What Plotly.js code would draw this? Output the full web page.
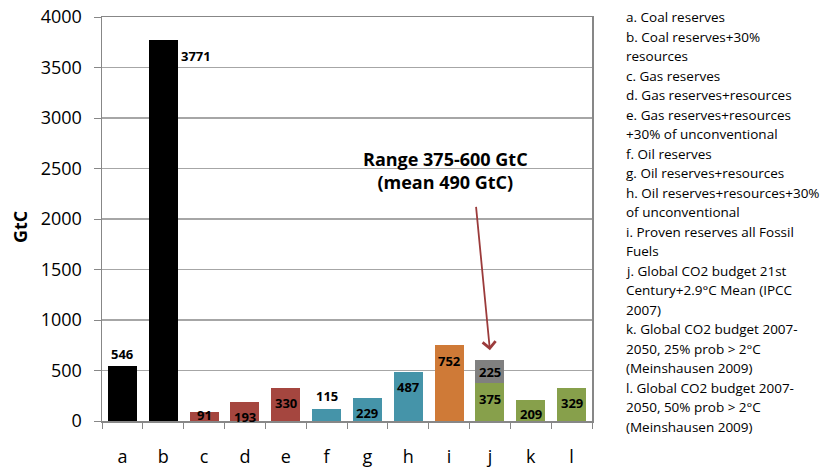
<!DOCTYPE html>
<html>
<head>
<meta charset="utf-8">
<script src="https://cdn.plot.ly/plotly-3.0.1.min.js"></script>
<style>
  html, body { margin: 0; padding: 0; background: #ffffff; }
  #chart { width: 827px; height: 467px; }
</style>
</head>
<body>
<div id="chart"></div>
<script>
// Carbon stocks and budgets, GtC
const categories = ['a', 'b', 'c', 'd', 'e', 'f', 'g', 'h', 'i', 'j', 'k', 'l'];
const values = [546, 3771, 91, 193, 330, 115, 229, 487, 752, 375, 209, 329];
const rangeTopCategory = ['j'];
const rangeTopValue = [225];   // 375 + 225 = 600 GtC upper end of range

const descriptions = [
  'a. Coal reserves',
  'b. Coal reserves+30%<br>resources',
  'c. Gas reserves',
  'd. Gas reserves+resources',
  'e. Gas reserves+resources<br>+30% of unconventional',
  'f. Oil reserves',
  'g. Oil reserves+resources',
  'h. Oil reserves+resources+30%<br>of unconventional',
  'i. Proven reserves all Fossil<br>Fuels',
  'j. Global CO2 budget 21st<br>Century+2.9°C Mean (IPCC<br>2007)',
  'k. Global CO2 budget 2007-<br>2050, 25% prob > 2°C<br>(Meinshausen 2009)',
  'l. Global CO2 budget 2007-<br>2050, 50% prob > 2°C<br>(Meinshausen 2009)'
];

const rangeNote = 'Range 375-600 GtC<br>(mean 490 GtC)';

// bar colours by fuel group
const groupColor = {
  coal: '#000000', gas: '#a5463f', oil: '#4594a9',
  all: '#cf7a37', budget: '#87a04b', range: '#808080'
};
const barGroups = ['coal', 'coal', 'gas', 'gas', 'gas', 'oil', 'oil', 'oil', 'all', 'budget', 'budget', 'budget'];

const FONT = 'Open Sans, Liberation Sans, Arial, sans-serif';

const traces = [
  {
    type: 'bar', x: categories, y: values,
    marker: { color: barGroups.map(g => groupColor[g]), line: { width: 0 } },
    hoverinfo: 'x+y'
  },
  {
    type: 'bar', x: rangeTopCategory, y: rangeTopValue,
    marker: { color: groupColor.range, line: { width: 0 } },
    hoverinfo: 'x+y'
  }
];

// value-label placement: pixel offset of label centre from bar top (negative = above)
const labelDrop = { a: -12, b: 16, c: 3, d: 15, e: 15, f: -13, g: 15, h: 15, i: 16, j: 16, k: 14, l: 15 };

const annotations = [];
const labelFont = { family: FONT, size: 13, color: '#000000', weight: 'bold' };

categories.forEach((c, i) => {
  const a = {
    x: c, y: values[i], xref: 'x', yref: 'y',
    text: String(values[i]), showarrow: false, font: labelFont,
    yanchor: 'middle', yshift: -labelDrop[c]
  };
  if (c === 'b') { a.xanchor = 'left'; a.xshift = 16; }
  annotations.push(a);
});

// stacked upper segment label
annotations.push({
  x: rangeTopCategory[0], y: values[categories.indexOf('j')] + rangeTopValue[0],
  xref: 'x', yref: 'y', text: String(rangeTopValue[0]), showarrow: false,
  font: labelFont, yanchor: 'middle', yshift: -12
});

// arrow onto the range bar
annotations.push({
  x: 'j', y: 700, xref: 'x', yref: 'y', text: '', showarrow: true,
  arrowhead: 4, arrowsize: 1.4, arrowwidth: 1.8, arrowcolor: '#9b3b3b',
  ax: -14, ay: -145, axref: 'pixel', ayref: 'pixel'
});

// range note
annotations.push({
  x: 'i', y: 2480, xref: 'x', yref: 'y', text: rangeNote, showarrow: false,
  font: { family: FONT, size: 18, color: '#000000', weight: 'bold' },
  align: 'center', xanchor: 'center', yanchor: 'middle', xshift: -4
});

// y-axis title
annotations.push({
  x: 0, xref: 'paper', y: 0.48, yref: 'paper', xshift: -82,
  text: 'GtC', textangle: -90, showarrow: false,
  xanchor: 'center', yanchor: 'middle',
  font: { family: FONT, size: 18, color: '#000000', weight: 'bold' }
});

// category descriptions, one line at a time
let line = 0;
descriptions.forEach(d => {
  d.split('<br>').forEach(t => {
    annotations.push({
      x: 1, xref: 'paper', y: 1, yref: 'paper', xanchor: 'left', yanchor: 'middle',
      xshift: 32, yshift: 0 - line * 19.5, text: t, showarrow: false, align: 'left',
      font: { family: FONT, size: 13.5, color: '#000000' }
    });
    line++;
  });
});

const layout = {
  width: 827, height: 467,
  margin: { l: 102, r: 235, t: 17, b: 46, pad: 0 },
  paper_bgcolor: '#ffffff', plot_bgcolor: '#ffffff',
  barmode: 'stack', bargap: 0.29, showlegend: false,
  font: { family: FONT, color: '#000000' },
  xaxis: {
    type: 'category', categoryorder: 'array', categoryarray: categories,
    showline: true, linecolor: '#878787', linewidth: 1.5, mirror: true,
    ticks: 'outside', tickson: 'boundaries', ticklen: 6, tickcolor: '#878787', tickwidth: 1,
    ticklabelstandoff: 19,
    tickfont: { family: FONT, size: 18, color: '#000000' },
    showgrid: false, zeroline: false, fixedrange: true
  },
  yaxis: {
    range: [0, 4000], dtick: 500, tick0: 0,
    showline: true, linecolor: '#878787', linewidth: 1.5, mirror: true,
    ticks: 'outside', ticklen: 7, tickcolor: '#878787',
    ticklabelstandoff: 8,
    tickfont: { family: FONT, size: 18, color: '#000000' },
    showgrid: true, gridcolor: '#a6a6a6', gridwidth: 1.2, zeroline: false,
    fixedrange: true
  },
  annotations: annotations
};

Plotly.newPlot('chart', traces, layout, { staticPlot: true, displayModeBar: false });
</script>
</body>
</html>
